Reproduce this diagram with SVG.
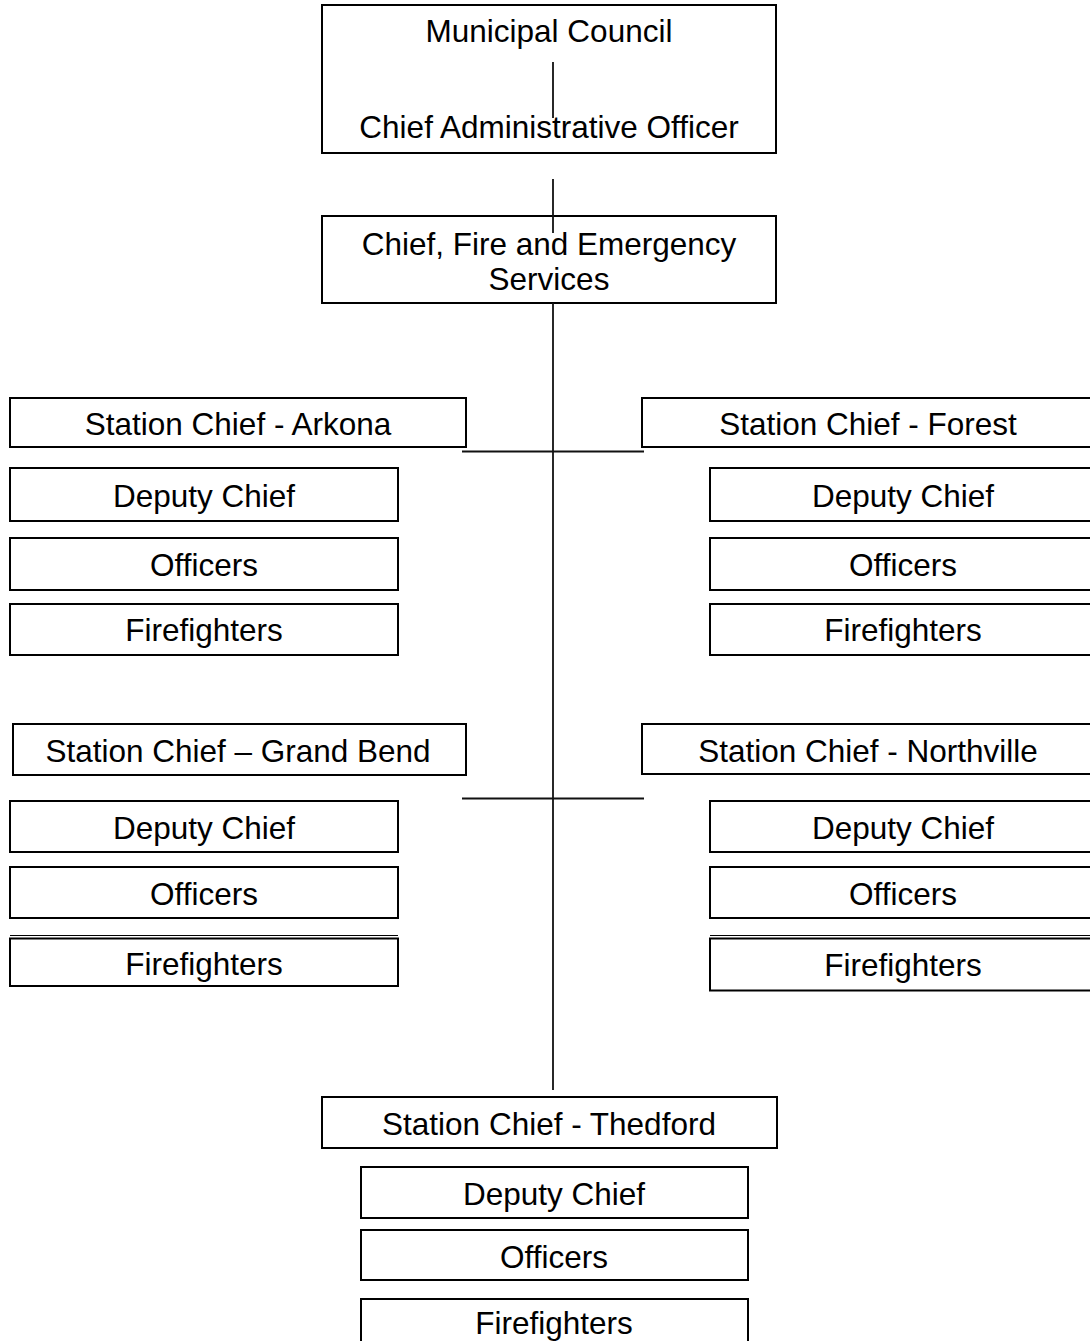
<svg xmlns="http://www.w3.org/2000/svg" width="1090" height="1341" viewBox="0 0 1090 1341">
<style>
  .box { fill: #fff; stroke: #000; stroke-width: 2; }
  .t { font-family: "Liberation Sans", Arial, sans-serif; font-size: 31.5px; fill: #000; text-anchor: middle; }
  .c { stroke: #111; stroke-width: 1.8; fill: none; }
  .thin { stroke: #000; stroke-width: 1; fill: none; }
</style>
<rect width="1090" height="1341" fill="#fff"/>

<g id="council-cao">
  <rect class="box" x="322" y="5" width="454" height="148"/>
  <text class="t" x="549" y="42">Municipal Council</text>
  <text class="t" x="549" y="138">Chief Administrative Officer</text>
</g>

<g id="fire-chief">
  <rect class="box" x="322" y="216" width="454" height="87"/>
  <text class="t" x="549" y="255">Chief, Fire and Emergency</text>
  <text class="t" x="549" y="290">Services</text>
</g>

<g id="arkona">
  <rect class="box" x="10" y="398" width="456" height="49"/>
  <text class="t" x="238" y="435">Station Chief - Arkona</text>
</g>
<g id="arkona-deputy">
  <rect class="box" x="10" y="468" width="388" height="53"/>
  <text class="t" x="204" y="507">Deputy Chief</text>
</g>
<g id="arkona-officers">
  <rect class="box" x="10" y="538" width="388" height="52"/>
  <text class="t" x="204" y="576">Officers</text>
</g>
<g id="arkona-firefighters">
  <rect class="box" x="10" y="604" width="388" height="51"/>
  <text class="t" x="204" y="641">Firefighters</text>
</g>

<g id="forest">
  <rect class="box" x="642" y="398" width="460" height="49"/>
  <text class="t" x="868" y="435">Station Chief - Forest</text>
</g>
<g id="forest-deputy">
  <rect class="box" x="710" y="468" width="390" height="53"/>
  <text class="t" x="903" y="507">Deputy Chief</text>
</g>
<g id="forest-officers">
  <rect class="box" x="710" y="538" width="390" height="52"/>
  <text class="t" x="903" y="576">Officers</text>
</g>
<g id="forest-firefighters">
  <rect class="box" x="710" y="604" width="390" height="51"/>
  <text class="t" x="903" y="641">Firefighters</text>
</g>

<g id="grand-bend">
  <rect class="box" x="13" y="724" width="453" height="51"/>
  <text class="t" x="238" y="762">Station Chief – Grand Bend</text>
</g>
<g id="grand-bend-deputy">
  <rect class="box" x="10" y="801" width="388" height="51"/>
  <text class="t" x="204" y="839">Deputy Chief</text>
</g>
<g id="grand-bend-officers">
  <rect class="box" x="10" y="867" width="388" height="51"/>
  <text class="t" x="204" y="905">Officers</text>
</g>
<g id="grand-bend-firefighters">
  <line class="thin" x1="10" y1="935.5" x2="398" y2="935.5"/>
  <rect class="box" x="10" y="938.5" width="388" height="47.5"/>
  <text class="t" x="204" y="975">Firefighters</text>
</g>

<g id="northville">
  <rect class="box" x="642" y="724" width="460" height="50"/>
  <text class="t" x="868" y="762">Station Chief - Northville</text>
</g>
<g id="northville-deputy">
  <rect class="box" x="710" y="801" width="390" height="51"/>
  <text class="t" x="903" y="839">Deputy Chief</text>
</g>
<g id="northville-officers">
  <rect class="box" x="710" y="867" width="390" height="51"/>
  <text class="t" x="903" y="905">Officers</text>
</g>
<g id="northville-firefighters">
  <line class="thin" x1="710" y1="935.5" x2="1100" y2="935.5"/>
  <rect class="box" x="710" y="938.5" width="390" height="52"/>
  <text class="t" x="903" y="976">Firefighters</text>
</g>

<g id="thedford">
  <rect class="box" x="322" y="1097" width="455" height="51"/>
  <text class="t" x="549" y="1135">Station Chief - Thedford</text>
</g>
<g id="thedford-deputy">
  <rect class="box" x="361" y="1167" width="387" height="51"/>
  <text class="t" x="554" y="1205">Deputy Chief</text>
</g>
<g id="thedford-officers">
  <rect class="box" x="361" y="1230" width="387" height="50"/>
  <text class="t" x="554" y="1268">Officers</text>
</g>
<g id="thedford-firefighters">
  <rect class="box" x="361" y="1299" width="387" height="50"/>
  <text class="t" x="554" y="1334">Firefighters</text>
</g>

<g id="connectors">
  <line class="c" x1="553" y1="62" x2="553" y2="118"/>
  <line class="c" x1="553" y1="179" x2="553" y2="233"/>
  <line class="c" x1="553" y1="303" x2="553" y2="1090"/>
  <line class="c" x1="462" y1="451.5" x2="644" y2="451.5"/>
  <line class="c" x1="462" y1="798.5" x2="644" y2="798.5"/>
</g>
</svg>
